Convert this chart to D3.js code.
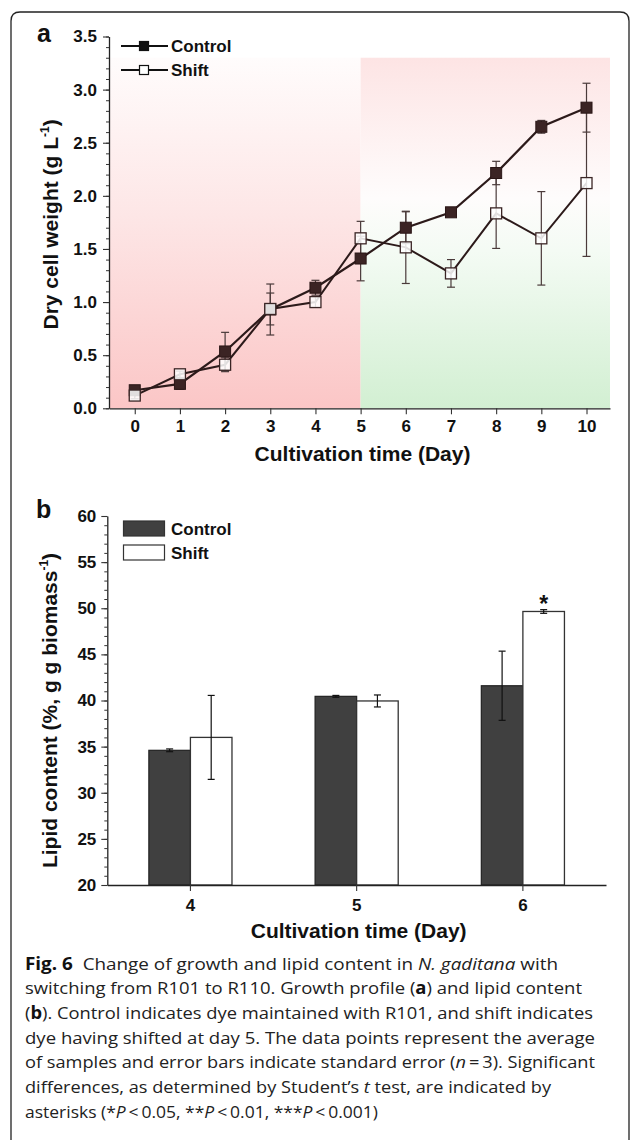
<!DOCTYPE html>
<html>
<head>
<meta charset="utf-8">
<script src="https://cdn.jsdelivr.net/npm/d3@7"></script>
<style>
  html, body { margin: 0; padding: 0; background: #fff; }
  svg { display: block; }
  .lab { font-family: "Liberation Sans", Arial, sans-serif; font-weight: bold; fill: #111; }
  .cap { font-family: "Open Sans", "Noto Sans", sans-serif; fill: #222; }
</style>
</head>
<body>
<svg id="fig" width="630" height="1140"></svg>
<script>
// ---------- data: panel a (growth profile) ----------
const days = [0, 1, 2, 3, 4, 5, 6, 7, 8, 9, 10];
const controlDCW = [0.17, 0.23, 0.535, 0.93, 1.135, 1.41, 1.70, 1.845, 2.215, 2.65, 2.83];
const controlDCWErr = [0.03, 0.05, 0.18, 0.24, 0.07, 0.21, 0.15, 0.02, 0.11, 0.06, 0.23];
const shiftDCW = [0.12, 0.32, 0.41, 0.935, 1.0, 1.60, 1.515, 1.27, 1.835, 1.60, 2.12];
const shiftDCWErr = [0.03, 0.03, 0.065, 0.15, 0.05, 0.16, 0.34, 0.13, 0.33, 0.44, 0.69];
const yTicksA = [0, 0.5, 1.0, 1.5, 2.0, 2.5, 3.0, 3.5];
const shiftDay = 5;
const shadeTop = 3.3;

// ---------- data: panel b (lipid content) ----------
const lipidDays = ["4", "5", "6"];
const controlLipid = [34.6, 40.45, 41.6];
const controlLipidErr = [0.15, 0.1, 3.75];
const shiftLipid = [36.0, 39.95, 49.65];
const shiftLipidErr = [4.55, 0.65, 0.2];
const shiftSignif = ["", "", "*"];
const yTicksB = [20, 25, 30, 35, 40, 45, 50, 55, 60];
const seriesNames = ["Control", "Shift"];

const captionLines = [
  [["b", "Fig. 6"], ["n", "  Change of growth and lipid content in "], ["i", "N. gaditana"], ["n", " with"]],
  [["n", "switching from R101 to R110. Growth profile ("], ["b", "a"], ["n", ") and lipid content"]],
  [["n", "("], ["b", "b"], ["n", "). Control indicates dye maintained with R101, and shift indicates"]],
  [["n", "dye having shifted at day 5. The data points represent the average"]],
  [["n", "of samples and error bars indicate standard error ("], ["i", "n"], ["n", "\u2009=\u20093). Significant"]],
  [["n", "differences, as determined by Student\u2019s "], ["i", "t"], ["n", " test, are indicated by"]],
  [["n", "asterisks (*"], ["i", "P"], ["n", "\u2009<\u20090.05, **"], ["i", "P"], ["n", "\u2009<\u20090.01, ***"], ["i", "P"], ["n", "\u2009<\u20090.001)"]]
];
const captionWidths = [533, 557, 568, 570, 570, 526, 353];

const svg = d3.select("#fig");
const font = '"Liberation Sans", Arial, sans-serif';

// frame
svg.append("path")
  .attr("d", "M11,1150 L11,21 Q11,12 20,12 L620,12 Q629,12 629,21 L629,1150")
  .attr("fill", "none").attr("stroke", "#222").attr("stroke-width", 1.3);

// ================= PANEL A =================
const xA = d3.scaleLinear().domain([-0.57, 10.52]).range([109, 610]);
const yA = d3.scaleLinear().domain([0, 3.5]).range([408.3, 36.5]);
const gA = svg.append("g");

const defs = svg.append("defs");
const gl = defs.append("linearGradient").attr("id", "gLeft").attr("x1", 0).attr("y1", 1).attr("x2", 0).attr("y2", 0);
gl.append("stop").attr("offset", "0%").attr("stop-color", "#fbc6c6");
gl.append("stop").attr("offset", "55%").attr("stop-color", "#fde6e6");
gl.append("stop").attr("offset", "100%").attr("stop-color", "#fffcfc");
const gr = defs.append("linearGradient").attr("id", "gRight").attr("x1", 0).attr("y1", 1).attr("x2", 0).attr("y2", 0);
gr.append("stop").attr("offset", "0%").attr("stop-color", "#d2efd2");
gr.append("stop").attr("offset", "45%").attr("stop-color", "#f4fbf4");
gr.append("stop").attr("offset", "60%").attr("stop-color", "#fefcfc");
gr.append("stop").attr("offset", "100%").attr("stop-color", "#fde4e4");

gA.append("rect")
  .attr("x", xA.range()[0]).attr("y", yA(shadeTop))
  .attr("width", xA(shiftDay) - xA.range()[0]).attr("height", yA(0) - yA(shadeTop))
  .attr("fill", "url(#gLeft)");
gA.append("rect")
  .attr("x", xA(shiftDay)).attr("y", yA(shadeTop))
  .attr("width", xA.range()[1] - xA(shiftDay)).attr("height", yA(0) - yA(shadeTop))
  .attr("fill", "url(#gRight)");

// axes A
const yAxA = gA.append("g").attr("transform", `translate(${xA.range()[0]},0)`)
  .call(d3.axisLeft(yA).tickValues(d3.range(0, 3.5001, 0.1)).tickSize(3).tickFormat("").tickSizeOuter(0));
yAxA.select(".domain").remove();
yAxA.selectAll("line").attr("stroke", "#333");
const yAxA2 = gA.append("g").attr("transform", `translate(${xA.range()[0]},0)`)
  .call(d3.axisLeft(yA).tickValues(yTicksA).tickSize(6).tickPadding(6).tickFormat(d3.format(".1f")).tickSizeOuter(0));
yAxA2.select(".domain").attr("stroke", "#222").attr("stroke-width", 1.3);
yAxA2.selectAll("line").attr("stroke", "#333").attr("stroke-width", 1.1);
yAxA2.selectAll("text").attr("font-family", font).attr("font-weight", "bold").attr("font-size", 17).attr("fill", "#111");

const xAxA = gA.append("g").attr("transform", `translate(0,${yA(0)})`)
  .call(d3.axisBottom(xA).tickValues(days).tickSize(6).tickPadding(6).tickFormat(d3.format("d")).tickSizeOuter(0));
xAxA.select(".domain").attr("stroke", "#222").attr("stroke-width", 1.3);
xAxA.selectAll("line").attr("stroke", "#333").attr("stroke-width", 1.1);
xAxA.selectAll("text").attr("font-family", font).attr("font-weight", "bold").attr("font-size", 17).attr("fill", "#111");

gA.append("text").attr("class", "lab").attr("x", (xA.range()[0] + xA.range()[1]) / 2 + 3).attr("y", 461)
  .attr("text-anchor", "middle").attr("font-size", 21).text("Cultivation time (Day)");
const tA = gA.append("text").attr("class", "lab").attr("transform", `translate(58,${(yA(0) + yA(3.5)) / 2 + 2}) rotate(-90)`)
  .attr("text-anchor", "middle").attr("font-size", 21);
tA.append("tspan").text("Dry cell weight (g L");
tA.append("tspan").attr("dy", -9).attr("font-size", 12).text("-1");
tA.append("tspan").attr("dy", 9).text(")");
gA.append("text").attr("class", "lab").attr("x", 37).attr("y", 42).attr("font-size", 25).text("a");

// lines
const lineA = d3.line().x((d, i) => xA(days[i])).y(d => yA(d));
const lineColor = "#2c1a1a";
gA.append("path").datum(controlDCW).attr("d", lineA).attr("fill", "none").attr("stroke", lineColor).attr("stroke-width", 2.2);
gA.append("path").datum(shiftDCW).attr("d", lineA).attr("fill", "none").attr("stroke", lineColor).attr("stroke-width", 2);

function errBars(g, xs, vals, errs, xScale, yScale, cap, color) {
  const eb = g.append("g").attr("stroke", color).attr("stroke-width", 1.2).attr("fill", "none");
  vals.forEach((v, i) => {
    const x = xs(i);
    const y1 = yScale(v - errs[i]), y2 = yScale(v + errs[i]);
    eb.append("line").attr("x1", x).attr("x2", x).attr("y1", y1).attr("y2", y2);
    eb.append("line").attr("x1", x - cap / 2).attr("x2", x + cap / 2).attr("y1", y1).attr("y2", y1);
    eb.append("line").attr("x1", x - cap / 2).attr("x2", x + cap / 2).attr("y1", y2).attr("y2", y2);
  });
}
errBars(gA, i => xA(days[i]), controlDCW, controlDCWErr, xA, yA, 8, "#4a3a3a");
errBars(gA, i => xA(days[i]), shiftDCW, shiftDCWErr, xA, yA, 8, "#4a3a3a");

const ms = 11;
gA.selectAll("rect.cm").data(controlDCW).join("rect").attr("class", "cm")
  .attr("x", (d, i) => xA(days[i]) - ms / 2).attr("y", d => yA(d) - ms / 2)
  .attr("width", ms).attr("height", ms).attr("fill", "#3b2424").attr("stroke", "#2a1616").attr("stroke-width", 1);
gA.selectAll("rect.sm").data(shiftDCW).join("rect").attr("class", "sm")
  .attr("x", (d, i) => xA(days[i]) - ms / 2).attr("y", d => yA(d) - ms / 2)
  .attr("width", ms).attr("height", ms).attr("fill", "#fff").attr("fill-opacity", 0.85).attr("stroke", "#3a2525").attr("stroke-width", 1.3);

// legend A
const legA = gA.append("g");
[0, 1].forEach(k => {
  const y = 46 + k * 24;
  legA.append("line").attr("x1", 121).attr("x2", 168).attr("y1", y).attr("y2", y).attr("stroke", "#111").attr("stroke-width", 2);
  legA.append("rect").attr("x", 144 - 4.5).attr("y", y - 4.5).attr("width", 9).attr("height", 9)
    .attr("fill", k === 0 ? "#111" : "#fff").attr("stroke", "#111").attr("stroke-width", 1.2);
  legA.append("text").attr("class", "lab").attr("x", 171).attr("y", y + 6).attr("font-size", 17).text(seriesNames[k]);
});

// ================= PANEL B =================
const gB = svg.append("g");
const xB = d3.scaleBand().domain(lipidDays).range([107.3, 606]).paddingInner(0.5).paddingOuter(0.25);
const yB = d3.scaleLinear().domain([20, 60]).range([885, 516]);
const bw = xB.bandwidth() / 2;

const yAxB = gB.append("g").attr("transform", `translate(${xB.range()[0]},0)`)
  .call(d3.axisLeft(yB).tickValues(d3.range(20, 60.001, 1)).tickSize(3).tickFormat("").tickSizeOuter(0));
yAxB.select(".domain").remove();
yAxB.selectAll("line").attr("stroke", "#333");
const yAxB2 = gB.append("g").attr("transform", `translate(${xB.range()[0]},0)`)
  .call(d3.axisLeft(yB).tickValues(yTicksB).tickSize(6).tickPadding(5).tickFormat(d3.format("d")).tickSizeOuter(0));
yAxB2.select(".domain").attr("stroke", "#222").attr("stroke-width", 1.3);
yAxB2.selectAll("line").attr("stroke", "#333").attr("stroke-width", 1.1);
yAxB2.selectAll("text").attr("font-family", font).attr("font-weight", "bold").attr("font-size", 17).attr("fill", "#111");

// bars
gB.selectAll("rect.cb").data(controlLipid).join("rect").attr("class", "cb")
  .attr("x", (d, i) => xB(lipidDays[i])).attr("y", d => yB(d))
  .attr("width", bw).attr("height", d => yB(20) - yB(d))
  .attr("fill", "#404040").attr("stroke", "#222").attr("stroke-width", 1.2);
gB.selectAll("rect.sb").data(shiftLipid).join("rect").attr("class", "sb")
  .attr("x", (d, i) => xB(lipidDays[i]) + bw).attr("y", d => yB(d))
  .attr("width", bw).attr("height", d => yB(20) - yB(d))
  .attr("fill", "#fff").attr("stroke", "#333").attr("stroke-width", 1.3);

errBars(gB, i => xB(lipidDays[i]) + bw / 2, controlLipid, controlLipidErr, xB, yB, 7, "#111");
errBars(gB, i => xB(lipidDays[i]) + bw * 1.5, shiftLipid, shiftLipidErr, xB, yB, 7, "#111");

gB.selectAll("text.sig").data(shiftSignif).join("text").attr("class", "lab sig")
  .attr("x", (d, i) => xB(lipidDays[i]) + bw * 1.5).attr("y", (d, i) => yB(shiftLipid[i] + shiftLipidErr[i]) + 2)
  .attr("text-anchor", "middle").attr("font-size", 23).text(d => d);

const xAxB = gB.append("g").attr("transform", `translate(0,${yB(20)})`)
  .call(d3.axisBottom(xB).tickSize(6).tickPadding(8).tickSizeOuter(0));
xAxB.select(".domain").attr("stroke", "#222").attr("stroke-width", 1.3);
xAxB.selectAll("line").attr("stroke", "#333").attr("stroke-width", 1.1);
xAxB.selectAll("text").attr("font-family", font).attr("font-weight", "bold").attr("font-size", 17).attr("fill", "#111");

gB.append("text").attr("class", "lab").attr("x", xB(lipidDays[1]) + bw + 2).attr("y", 938)
  .attr("text-anchor", "middle").attr("font-size", 21).text("Cultivation time (Day)");
const tB = gB.append("text").attr("class", "lab").attr("transform", `translate(57,${(yB(20) + yB(60)) / 2 + 10}) rotate(-90)`)
  .attr("text-anchor", "middle").attr("font-size", 21);
tB.append("tspan").text("Lipid content (%, g g biomass");
tB.append("tspan").attr("dy", -9).attr("font-size", 12).text("-1");
tB.append("tspan").attr("dy", 9).text(")");
gB.append("text").attr("class", "lab").attr("x", 36).attr("y", 518).attr("font-size", 25).text("b");

// legend B
const legB = gB.append("g");
[0, 1].forEach(k => {
  const y = 521 + k * 24;
  legB.append("rect").attr("x", 123.5).attr("y", y).attr("width", 41).attr("height", 15)
    .attr("fill", k === 0 ? "#404040" : "#fff").attr("stroke", "#333").attr("stroke-width", 1.2);
  legB.append("text").attr("class", "lab").attr("x", 171).attr("y", y + 14).attr("font-size", 17).text(seriesNames[k]);
});

// ================= CAPTION =================
const capG = svg.append("g");
captionLines.forEach((line, li) => {
  const t = capG.append("text").attr("class", "cap").attr("x", 25).attr("y", 969.5 + li * 24.7)
    .attr("font-size", 17).attr("textLength", captionWidths[li]).attr("lengthAdjust", "spacingAndGlyphs")
    .attr("xml:space", "preserve");
  line.forEach(([s, str]) => {
    const ts = t.append("tspan").text(str);
    if (s === "b") ts.attr("font-weight", "bold").attr("fill", "#111");
    if (s === "i") ts.attr("font-style", "italic");
  });
});
</script>
</body>
</html>
